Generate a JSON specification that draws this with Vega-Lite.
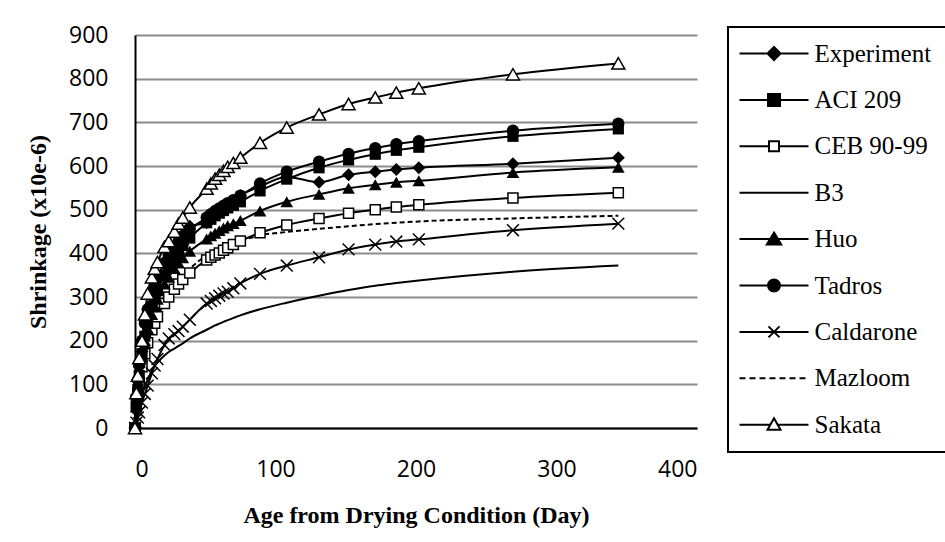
{
  "$schema": "https://vega.github.io/schema/vega-lite/v6.json",
  "width": 562,
  "height": 393,
  "autosize": "none",
  "padding": {"left": 135, "top": 35, "right": 248, "bottom": 114},
  "background": "white",
  "data": {"values": [
{"s":"Experiment","t":0,"v":0},{"s":"Experiment","t":1,"v":75},{"s":"Experiment","t":2,"v":110},{"s":"Experiment","t":3,"v":140},{"s":"Experiment","t":5,"v":175},{"s":"Experiment","t":7,"v":210},{"s":"Experiment","t":9,"v":250},{"s":"Experiment","t":12,"v":285},{"s":"Experiment","t":14,"v":300},{"s":"Experiment","t":16,"v":320},{"s":"Experiment","t":21,"v":350},{"s":"Experiment","t":24,"v":365},{"s":"Experiment","t":28,"v":385},{"s":"Experiment","t":31,"v":400},{"s":"Experiment","t":34,"v":420},{"s":"Experiment","t":39,"v":462},{"s":"Experiment","t":51,"v":470},{"s":"Experiment","t":54,"v":482},{"s":"Experiment","t":57,"v":490},{"s":"Experiment","t":60,"v":497},{"s":"Experiment","t":63,"v":505},{"s":"Experiment","t":66,"v":512},{"s":"Experiment","t":70,"v":520},{"s":"Experiment","t":75,"v":532},{"s":"Experiment","t":89,"v":553},{"s":"Experiment","t":108,"v":575},{"s":"Experiment","t":131,"v":563},{"s":"Experiment","t":152,"v":580},{"s":"Experiment","t":171,"v":587},{"s":"Experiment","t":186,"v":592},{"s":"Experiment","t":202,"v":596},{"s":"Experiment","t":269,"v":605},{"s":"Experiment","t":344,"v":619},
{"s":"ACI 209","t":0,"v":0},{"s":"ACI 209","t":1,"v":50},{"s":"ACI 209","t":2,"v":88},{"s":"ACI 209","t":3,"v":120},{"s":"ACI 209","t":5,"v":170},{"s":"ACI 209","t":7,"v":210},{"s":"ACI 209","t":9,"v":240},{"s":"ACI 209","t":12,"v":278},{"s":"ACI 209","t":14,"v":298},{"s":"ACI 209","t":16,"v":315},{"s":"ACI 209","t":21,"v":350},{"s":"ACI 209","t":24,"v":368},{"s":"ACI 209","t":28,"v":390},{"s":"ACI 209","t":31,"v":405},{"s":"ACI 209","t":34,"v":418},{"s":"ACI 209","t":39,"v":435},{"s":"ACI 209","t":51,"v":470},{"s":"ACI 209","t":54,"v":478},{"s":"ACI 209","t":57,"v":486},{"s":"ACI 209","t":60,"v":492},{"s":"ACI 209","t":63,"v":498},{"s":"ACI 209","t":66,"v":504},{"s":"ACI 209","t":70,"v":510},{"s":"ACI 209","t":75,"v":518},{"s":"ACI 209","t":89,"v":543},{"s":"ACI 209","t":108,"v":570},{"s":"ACI 209","t":131,"v":596},{"s":"ACI 209","t":152,"v":614},{"s":"ACI 209","t":171,"v":627},{"s":"ACI 209","t":186,"v":636},{"s":"ACI 209","t":202,"v":643},{"s":"ACI 209","t":269,"v":668},{"s":"ACI 209","t":344,"v":685},
{"s":"CEB 90-99","t":0,"v":0},{"s":"CEB 90-99","t":1,"v":50},{"s":"CEB 90-99","t":2,"v":80},{"s":"CEB 90-99","t":3,"v":105},{"s":"CEB 90-99","t":5,"v":140},{"s":"CEB 90-99","t":7,"v":170},{"s":"CEB 90-99","t":9,"v":195},{"s":"CEB 90-99","t":12,"v":225},{"s":"CEB 90-99","t":14,"v":240},{"s":"CEB 90-99","t":16,"v":255},{"s":"CEB 90-99","t":21,"v":285},{"s":"CEB 90-99","t":24,"v":300},{"s":"CEB 90-99","t":28,"v":318},{"s":"CEB 90-99","t":31,"v":330},{"s":"CEB 90-99","t":34,"v":340},{"s":"CEB 90-99","t":39,"v":355},{"s":"CEB 90-99","t":51,"v":385},{"s":"CEB 90-99","t":54,"v":391},{"s":"CEB 90-99","t":57,"v":396},{"s":"CEB 90-99","t":60,"v":401},{"s":"CEB 90-99","t":63,"v":407},{"s":"CEB 90-99","t":66,"v":413},{"s":"CEB 90-99","t":70,"v":420},{"s":"CEB 90-99","t":75,"v":428},{"s":"CEB 90-99","t":89,"v":447},{"s":"CEB 90-99","t":108,"v":465},{"s":"CEB 90-99","t":131,"v":480},{"s":"CEB 90-99","t":152,"v":492},{"s":"CEB 90-99","t":171,"v":500},{"s":"CEB 90-99","t":186,"v":506},{"s":"CEB 90-99","t":202,"v":511},{"s":"CEB 90-99","t":269,"v":527},{"s":"CEB 90-99","t":344,"v":539},
{"s":"B3","t":0,"v":0},{"s":"B3","t":1,"v":18},{"s":"B3","t":2,"v":35},{"s":"B3","t":3,"v":50},{"s":"B3","t":5,"v":75},{"s":"B3","t":7,"v":95},{"s":"B3","t":9,"v":110},{"s":"B3","t":12,"v":132},{"s":"B3","t":14,"v":142},{"s":"B3","t":16,"v":150},{"s":"B3","t":21,"v":166},{"s":"B3","t":24,"v":174},{"s":"B3","t":28,"v":182},{"s":"B3","t":31,"v":188},{"s":"B3","t":34,"v":194},{"s":"B3","t":39,"v":205},{"s":"B3","t":51,"v":225},{"s":"B3","t":54,"v":230},{"s":"B3","t":57,"v":235},{"s":"B3","t":60,"v":239},{"s":"B3","t":63,"v":243},{"s":"B3","t":66,"v":247},{"s":"B3","t":70,"v":252},{"s":"B3","t":75,"v":258},{"s":"B3","t":89,"v":272},{"s":"B3","t":108,"v":287},{"s":"B3","t":131,"v":303},{"s":"B3","t":152,"v":316},{"s":"B3","t":171,"v":326},{"s":"B3","t":186,"v":332},{"s":"B3","t":202,"v":338},{"s":"B3","t":269,"v":358},{"s":"B3","t":344,"v":372},
{"s":"Huo","t":0,"v":0},{"s":"Huo","t":1,"v":48},{"s":"Huo","t":2,"v":85},{"s":"Huo","t":3,"v":115},{"s":"Huo","t":5,"v":165},{"s":"Huo","t":7,"v":200},{"s":"Huo","t":9,"v":228},{"s":"Huo","t":12,"v":260},{"s":"Huo","t":14,"v":280},{"s":"Huo","t":16,"v":295},{"s":"Huo","t":21,"v":330},{"s":"Huo","t":24,"v":345},{"s":"Huo","t":28,"v":365},{"s":"Huo","t":31,"v":378},{"s":"Huo","t":34,"v":390},{"s":"Huo","t":39,"v":405},{"s":"Huo","t":51,"v":433},{"s":"Huo","t":54,"v":440},{"s":"Huo","t":57,"v":446},{"s":"Huo","t":60,"v":452},{"s":"Huo","t":63,"v":458},{"s":"Huo","t":66,"v":463},{"s":"Huo","t":70,"v":468},{"s":"Huo","t":75,"v":475},{"s":"Huo","t":89,"v":497},{"s":"Huo","t":108,"v":518},{"s":"Huo","t":131,"v":535},{"s":"Huo","t":152,"v":549},{"s":"Huo","t":171,"v":557},{"s":"Huo","t":186,"v":563},{"s":"Huo","t":202,"v":566},{"s":"Huo","t":269,"v":585},{"s":"Huo","t":344,"v":597},
{"s":"Tadros","t":0,"v":0},{"s":"Tadros","t":1,"v":70},{"s":"Tadros","t":2,"v":110},{"s":"Tadros","t":3,"v":145},{"s":"Tadros","t":5,"v":200},{"s":"Tadros","t":7,"v":240},{"s":"Tadros","t":9,"v":272},{"s":"Tadros","t":12,"v":308},{"s":"Tadros","t":14,"v":328},{"s":"Tadros","t":16,"v":345},{"s":"Tadros","t":21,"v":378},{"s":"Tadros","t":24,"v":395},{"s":"Tadros","t":28,"v":415},{"s":"Tadros","t":31,"v":428},{"s":"Tadros","t":34,"v":440},{"s":"Tadros","t":39,"v":455},{"s":"Tadros","t":51,"v":482},{"s":"Tadros","t":54,"v":490},{"s":"Tadros","t":57,"v":497},{"s":"Tadros","t":60,"v":503},{"s":"Tadros","t":63,"v":509},{"s":"Tadros","t":66,"v":515},{"s":"Tadros","t":70,"v":522},{"s":"Tadros","t":75,"v":532},{"s":"Tadros","t":89,"v":560},{"s":"Tadros","t":108,"v":587},{"s":"Tadros","t":131,"v":610},{"s":"Tadros","t":152,"v":628},{"s":"Tadros","t":171,"v":641},{"s":"Tadros","t":186,"v":650},{"s":"Tadros","t":202,"v":657},{"s":"Tadros","t":269,"v":681},{"s":"Tadros","t":344,"v":697},
{"s":"Caldarone","t":0,"v":0},{"s":"Caldarone","t":1,"v":12},{"s":"Caldarone","t":2,"v":24},{"s":"Caldarone","t":3,"v":36},{"s":"Caldarone","t":5,"v":58},{"s":"Caldarone","t":7,"v":78},{"s":"Caldarone","t":9,"v":97},{"s":"Caldarone","t":12,"v":125},{"s":"Caldarone","t":14,"v":143},{"s":"Caldarone","t":16,"v":158},{"s":"Caldarone","t":21,"v":190},{"s":"Caldarone","t":24,"v":205},{"s":"Caldarone","t":28,"v":215},{"s":"Caldarone","t":31,"v":222},{"s":"Caldarone","t":34,"v":232},{"s":"Caldarone","t":39,"v":248},{"s":"Caldarone","t":51,"v":285},{"s":"Caldarone","t":54,"v":291},{"s":"Caldarone","t":57,"v":297},{"s":"Caldarone","t":60,"v":303},{"s":"Caldarone","t":63,"v":308},{"s":"Caldarone","t":66,"v":312},{"s":"Caldarone","t":70,"v":320},{"s":"Caldarone","t":75,"v":331},{"s":"Caldarone","t":89,"v":353},{"s":"Caldarone","t":108,"v":372},{"s":"Caldarone","t":131,"v":391},{"s":"Caldarone","t":152,"v":409},{"s":"Caldarone","t":171,"v":420},{"s":"Caldarone","t":186,"v":427},{"s":"Caldarone","t":202,"v":432},{"s":"Caldarone","t":269,"v":453},{"s":"Caldarone","t":344,"v":468},
{"s":"Mazloom","t":0,"v":0},{"s":"Mazloom","t":1,"v":40},{"s":"Mazloom","t":2,"v":70},{"s":"Mazloom","t":3,"v":95},{"s":"Mazloom","t":5,"v":140},{"s":"Mazloom","t":7,"v":175},{"s":"Mazloom","t":9,"v":200},{"s":"Mazloom","t":12,"v":232},{"s":"Mazloom","t":14,"v":250},{"s":"Mazloom","t":16,"v":265},{"s":"Mazloom","t":21,"v":295},{"s":"Mazloom","t":24,"v":310},{"s":"Mazloom","t":28,"v":328},{"s":"Mazloom","t":31,"v":340},{"s":"Mazloom","t":34,"v":350},{"s":"Mazloom","t":39,"v":365},{"s":"Mazloom","t":51,"v":395},{"s":"Mazloom","t":54,"v":400},{"s":"Mazloom","t":57,"v":405},{"s":"Mazloom","t":60,"v":410},{"s":"Mazloom","t":63,"v":414},{"s":"Mazloom","t":66,"v":418},{"s":"Mazloom","t":70,"v":422},{"s":"Mazloom","t":75,"v":428},{"s":"Mazloom","t":89,"v":441},{"s":"Mazloom","t":108,"v":449},{"s":"Mazloom","t":131,"v":456},{"s":"Mazloom","t":152,"v":462},{"s":"Mazloom","t":171,"v":467},{"s":"Mazloom","t":186,"v":470},{"s":"Mazloom","t":202,"v":473},{"s":"Mazloom","t":269,"v":480},{"s":"Mazloom","t":344,"v":486},
{"s":"Sakata","t":0,"v":0},{"s":"Sakata","t":1,"v":80},{"s":"Sakata","t":2,"v":120},{"s":"Sakata","t":3,"v":160},{"s":"Sakata","t":5,"v":200},{"s":"Sakata","t":7,"v":260},{"s":"Sakata","t":9,"v":308},{"s":"Sakata","t":12,"v":345},{"s":"Sakata","t":14,"v":365},{"s":"Sakata","t":16,"v":380},{"s":"Sakata","t":21,"v":415},{"s":"Sakata","t":24,"v":428},{"s":"Sakata","t":28,"v":450},{"s":"Sakata","t":31,"v":468},{"s":"Sakata","t":34,"v":482},{"s":"Sakata","t":39,"v":505},{"s":"Sakata","t":51,"v":548},{"s":"Sakata","t":54,"v":560},{"s":"Sakata","t":57,"v":571},{"s":"Sakata","t":60,"v":580},{"s":"Sakata","t":63,"v":589},{"s":"Sakata","t":66,"v":598},{"s":"Sakata","t":70,"v":607},{"s":"Sakata","t":75,"v":619},{"s":"Sakata","t":89,"v":653},{"s":"Sakata","t":108,"v":688},{"s":"Sakata","t":131,"v":718},{"s":"Sakata","t":152,"v":742},{"s":"Sakata","t":171,"v":757},{"s":"Sakata","t":186,"v":768},{"s":"Sakata","t":202,"v":778},{"s":"Sakata","t":269,"v":810},{"s":"Sakata","t":344,"v":835}
  ]},
  "encoding": {
    "x": {"field": "t", "type": "quantitative", "scale": {"domain": [0, 400], "nice": false},
          "axis": {"values": [0, 100, 200, 300, 400], "title": "Age from Drying Condition (Day)"}},
    "y": {"field": "v", "type": "quantitative", "scale": {"domain": [0, 900], "nice": false},
          "axis": {"values": [0, 100, 200, 300, 400, 500, 600, 700, 800, 900], "title": "Shrinkage (x10e-6)"}}
  },
  "layer": [
    {"transform": [{"filter": "datum.s != 'Mazloom'"}],
     "mark": {"type": "line", "interpolate": "monotone", "stroke": "black", "strokeWidth": 2},
     "encoding": {"detail": {"field": "s"}}},
    {"transform": [{"filter": "datum.s == 'Mazloom'"}],
     "mark": {"type": "line", "interpolate": "monotone", "stroke": "black", "strokeWidth": 2, "strokeDash": [5, 3]},
     "encoding": {}},
    {"transform": [{"filter": "datum.s == 'CEB 90-99'"}],
     "mark": {"type": "point", "shape": "square", "filled": false, "fill": "white", "stroke": "black", "strokeWidth": 1.5, "size": 100, "opacity": 1}},
    {"transform": [{"filter": "datum.s == 'Caldarone'"}],
     "mark": {"type": "point", "shape": "M-1,-1L1,1M-1,1L1,-1", "filled": false, "stroke": "black", "strokeWidth": 1.5, "size": 140, "opacity": 1}},
    {"transform": [{"filter": "datum.s == 'Huo'"}],
     "mark": {"type": "point", "shape": "triangle-up", "filled": true, "fill": "black", "size": 160, "opacity": 1}},
    {"transform": [{"filter": "datum.s == 'Experiment'"}],
     "mark": {"type": "point", "shape": "diamond", "filled": true, "fill": "black", "size": 170, "opacity": 1}},
    {"transform": [{"filter": "datum.s == 'ACI 209'"}],
     "mark": {"type": "point", "shape": "square", "filled": true, "fill": "black", "size": 125, "opacity": 1}},
    {"transform": [{"filter": "datum.s == 'Tadros'"}],
     "mark": {"type": "point", "shape": "circle", "filled": true, "fill": "black", "size": 150, "opacity": 1}},
    {"transform": [{"filter": "datum.s == 'Sakata'"}],
     "mark": {"type": "point", "shape": "triangle-up", "filled": false, "fill": "white", "stroke": "black", "strokeWidth": 1.5, "size": 170, "opacity": 1}},
    {"transform": [{"filter": "false"}],
     "mark": {"type": "point", "filled": true, "stroke": "black", "strokeWidth": 2, "opacity": 1},
     "encoding": {
       "shape": {"field": "s", "type": "nominal", "title": null,
         "scale": {"domain": ["Experiment", "ACI 209", "CEB 90-99", "B3", "Huo", "Tadros", "Caldarone", "Mazloom", "Sakata"],
           "range": [
             "M-3.45,0L3.45,0M0,-0.65L0.65,0L0,0.65L-0.65,0Z",
             "M-3.45,0L3.45,0M-0.6,-0.6L0.6,-0.6L0.6,0.6L-0.6,0.6Z",
             "M-3.45,0L-0.5,0M0.5,0L3.45,0M-0.5,-0.5L0.5,-0.5L0.5,0.5L-0.5,0.5Z",
             "M-3.45,0L3.45,0",
             "M-3.45,0L3.45,0M0,-0.65L0.72,0.55L-0.72,0.55Z",
             "M-3.45,0L3.45,0M0.6,0A0.6,0.6,0,1,1,-0.6,0A0.6,0.6,0,1,1,0.6,0Z",
             "M-3.45,0L3.45,0M-0.55,-0.55L0.55,0.55M-0.55,0.55L0.55,-0.55",
             "M-3.45,0L-2.85,0M-2.45,0L-1.85,0M-1.45,0L-0.85,0M-0.45,0L0.15,0M0.55,0L1.15,0M1.55,0L2.15,0M2.55,0L3.15,0",
             "M-3.45,0L-0.37,0M0.37,0L3.45,0M0,-0.65L0.65,0.5L-0.65,0.5Z"
           ]},
         "legend": {"labelExpr": "datum.value == 'Huo' ? '\u00a0Huo' : datum.label",
                    "encode": {"symbols": {"stroke": {"value": "black"}, "strokeWidth": {"value": 2}}}}},
       "fill": {"field": "s", "type": "nominal", "title": null,
         "scale": {"domain": ["Experiment", "ACI 209", "CEB 90-99", "B3", "Huo", "Tadros", "Caldarone", "Mazloom", "Sakata"],
           "range": ["black", "black", "white", "transparent", "black", "black", "transparent", "transparent", "white"]},
         "legend": {"labelExpr": "datum.value == 'Huo' ? '\u00a0Huo' : datum.label",
                    "encode": {"symbols": {"stroke": {"value": "black"}, "strokeWidth": {"value": 2}}}}}
     }}
  ],
  "config": {
    "view": {"stroke": null},
    "axis": {"labelFont": "Open Sans", "labelFontSize": 23, "labelColor": "black",
             "titleFont": "Liberation Serif", "titleFontSize": 24, "titleFontWeight": "bold", "titleColor": "black",
             "ticks": false, "domainColor": "black", "domainWidth": 2, "gridColor": "#8c8c8c", "gridWidth": 2},
    "axisX": {"grid": false, "labelPadding": 30, "titleY": 94, "titleBaseline": "alphabetic"},
    "axisY": {"labelPadding": 27, "titleX": -97, "titleY": 196.5, "titleAngle": -90, "titleBaseline": "middle", "titleAlign": "center"},
    "legend": {"orient": "none", "legendX": 593, "legendY": -8, "strokeColor": "black", "strokeWidth": 2,
               "fillColor": "white", "padding": 14, "symbolSize": 400, "symbolOffset": 19.5, "labelOffset": 28,
               "labelFont": "Liberation Serif", "labelFontSize": 25, "labelColor": "black", "labelLimit": 400,
               "rowPadding": 20.4, "symbolStrokeWidth": 2}
  }
}
